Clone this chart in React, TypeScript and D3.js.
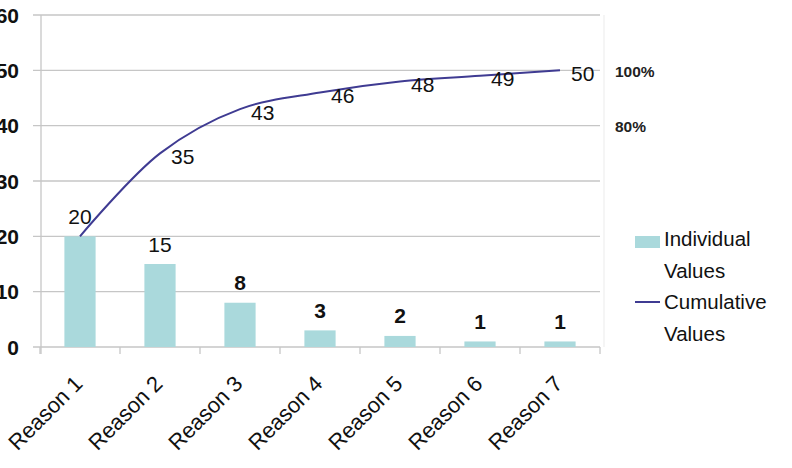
import React from "react";
import * as d3 from "d3";

const categories = ["Reason 1", "Reason 2", "Reason 3", "Reason 4", "Reason 5", "Reason 6", "Reason 7"];
const individualValues = [20, 15, 8, 3, 2, 1, 1];
const cumulativeValues = [20, 35, 43, 46, 48, 49, 50];
const yTicks = [0, 10, 20, 30, 40, 50, 60];
const rightLabels = ["100%", "80%"];
const rightLabelValues = [50, 40];
const legendLabels = [["Individual", "Values"], ["Cumulative", "Values"]];

const W = 792;
const H = 468;
const FONT = "Arial, 'Liberation Sans', Helvetica, sans-serif";
const BAR = "#aad9dc";
const LINE = "#3f3b92";
const GRID = "#c6c6c6";

export default function App() {
  const x = d3.scaleBand<string>().domain(categories).range([40, 600]).padding(0);
  const y = d3.scaleLinear().domain([0, 60]).range([347, 15]);
  const bw = x.bandwidth() * 0.39;
  const cx = (c: string) => (x(c) as number) + x.bandwidth() / 2;

  const line = d3
    .line<number>()
    .x((_, i) => cx(categories[i]))
    .y((d) => y(d))
    .curve(d3.curveCatmullRom.alpha(0.5));

  const boundaries = [...categories.map((c) => x(c) as number), 600];

  return (
    <svg
      width={W}
      height={H}
      style={{ position: "absolute", left: 0, top: 0, background: "#fff" }}
      fontFamily={FONT}
    >
      <rect x={0} y={0} width={W} height={H} fill="#fff" />
      {/* gridlines */}
      {yTicks.map((t) => (
        <line key={t} x1={33} x2={600} y1={y(t)} y2={y(t)} stroke={GRID} strokeWidth={1.3} />
      ))}
      {/* faint right border */}
      <line x1={604} x2={604} y1={y(60)} y2={y(0)} stroke="#efefef" strokeWidth={1.2} />
      {/* y axis */}
      <line x1={41} x2={41} y1={y(60)} y2={y(0) + 7} stroke={GRID} strokeWidth={1.3} />
      {/* x ticks */}
      {boundaries.map((b, i) => (
        <line key={i} x1={b} x2={b} y1={y(0)} y2={y(0) + 7} stroke={GRID} strokeWidth={1.3} />
      ))}
      {/* y tick labels (partly clipped at the left edge, as in the reference) */}
      {yTicks.map((t) => (
        <text
          key={t}
          x={19}
          y={y(t)}
          dy="0.36em"
          textAnchor="end"
          fontSize={21}
          fontWeight="bold"
          fill="#111"
        >
          {t}
        </text>
      ))}
      {/* bars */}
      {individualValues.map((v, i) => (
        <rect
          key={i}
          x={cx(categories[i]) - bw / 2}
          y={y(v)}
          width={bw}
          height={y(0) - y(v)}
          fill={BAR}
        />
      ))}
      {/* bar labels */}
      {individualValues.map((v, i) => (
        <text
          key={i}
          x={cx(categories[i])}
          y={y(v) - 20}
          dy="0.36em"
          textAnchor="middle"
          fontSize={21}
          fontWeight={i < 2 ? "normal" : "bold"}
          fill="#111"
        >
          {v}
        </text>
      ))}
      {/* cumulative line */}
      <path d={line(cumulativeValues) || ""} fill="none" stroke={LINE} strokeWidth={2} />
      {cumulativeValues.map((v, i) =>
        i === 0 ? null : (
          <text
            key={i}
            x={cx(categories[i]) + 11}
            y={y(v) + 3}
            dy="0.36em"
            fontSize={21}
            fill="#111"
          >
            {v}
          </text>
        )
      )}
      {/* right percent labels */}
      {rightLabels.map((l, i) => (
        <text
          key={l}
          x={615}
          y={y(rightLabelValues[i]) + 1}
          dy="0.36em"
          fontSize={15.5}
          fontWeight="bold"
          fill="#222"
        >
          {l}
        </text>
      ))}
      {/* category labels */}
      {categories.map((c) => (
        <text
          key={c}
          transform={`translate(${cx(c) + 4},${385}) rotate(-45)`}
          textAnchor="end"
          fontSize={22}
          fill="#111"
        >
          {c}
        </text>
      ))}
      {/* legend */}
      <rect x={635} y={236} width={25} height={12} fill={BAR} />
      <line x1={635} x2={660} y1={302} y2={302} stroke={LINE} strokeWidth={2} />
      {legendLabels.map((lines, k) =>
        lines.map((t, j) => (
          <text
            key={`${k}-${j}`}
            x={664}
            y={(k === 0 ? 239 : 302) + j * 32}
            dy="0.36em"
            fontSize={20.5}
            fill="#111"
          >
            {t}
          </text>
        ))
      )}
    </svg>
  );
}
